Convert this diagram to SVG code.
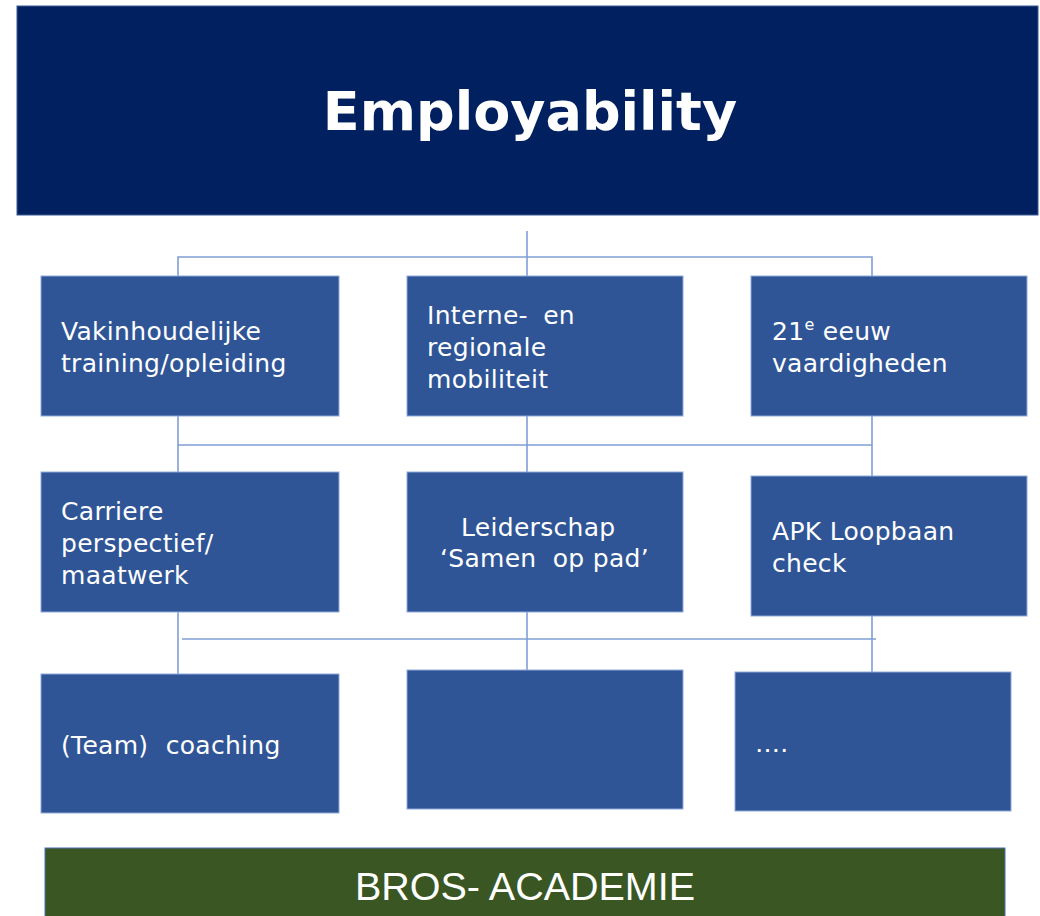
<svg xmlns="http://www.w3.org/2000/svg" width="1040" height="916" viewBox="0 0 1040 916">
<style>
.box{fill:#2F5597;stroke:#8FAADC;stroke-width:1}
.t{font-family:"DejaVu Sans",Verdana,sans-serif;font-size:25px;fill:#FFFFFF;letter-spacing:0.3px}
.con{stroke:#7F9FD6;stroke-width:1.6;fill:none}
</style>
<rect width="1040" height="916" fill="#FFFFFF"/>
<g id="connectors">
<path class="con" d="M527 231V276M178 276V257H872V276"/>
<path class="con" d="M178 416V472M527 416V472M872 416V476M178 445H872"/>
<path class="con" d="M178 612V674M527 612V670M872 616V672M182 639H876"/>
</g>
<g id="employability">
<rect x="17" y="6" width="1021" height="209" fill="#012060" stroke="#3B5A96" stroke-width="1"/>
<text x="530" y="130" text-anchor="middle" font-family="'DejaVu Sans',Verdana,sans-serif" font-weight="bold" font-size="54" fill="#FFFFFF">Employability</text>
</g>
<g id="vakinhoudelijke">
<rect class="box" x="41" y="276" width="298" height="140"/>
<text class="t"><tspan x="61" y="340">Vakinhoudelijke</tspan><tspan x="61" y="372">training/opleiding</tspan></text>
</g>
<g id="mobiliteit">
<rect class="box" x="407" y="276" width="276" height="140"/>
<text class="t"><tspan x="427" y="324">Interne-<tspan dx="7"> en</tspan></tspan><tspan x="427" y="356">regionale</tspan><tspan x="427" y="388">mobiliteit</tspan></text>
</g>
<g id="vaardigheden">
<rect class="box" x="751" y="276" width="276" height="140"/>
<text class="t"><tspan x="772" y="340">21</tspan><tspan font-size="16" dy="-10">e</tspan><tspan dy="10"> eeuw</tspan><tspan x="772" y="372">vaardigheden</tspan></text>
</g>
<g id="carriere">
<rect class="box" x="41" y="472" width="298" height="140"/>
<text class="t"><tspan x="61" y="520">Carriere</tspan><tspan x="61" y="552">perspectief/</tspan><tspan x="61" y="584">maatwerk</tspan></text>
</g>
<g id="leiderschap">
<rect class="box" x="407" y="472" width="276" height="140"/>
<text class="t"><tspan x="461" y="536">Leiderschap</tspan><tspan x="440" y="567">‘Samen<tspan dx="8"> op pad’</tspan></tspan></text>
</g>
<g id="apk">
<rect class="box" x="751" y="476" width="276" height="140"/>
<text class="t" letter-spacing="0.6"><tspan x="772" y="540">APK Loopbaan</tspan><tspan x="772" y="572">check</tspan></text>
</g>
<g id="coaching">
<rect class="box" x="41" y="674" width="298" height="139"/>
<text class="t" x="61" y="754" letter-spacing="0.6">(Team)<tspan dx="9"> coaching</tspan></text>
</g>
<g id="empty">
<rect class="box" x="407" y="670" width="276" height="139"/>
</g>
<g id="more">
<rect class="box" x="735" y="672" width="276" height="139"/>
<text class="t" x="755" y="752">….</text>
</g>
<g id="bros-academie">
<rect x="45" y="848" width="960" height="76" fill="#3A5623" stroke="#4A6FB5" stroke-width="1"/>
<text x="525" y="900" text-anchor="middle" font-family="'Liberation Sans',Arial,sans-serif" font-size="39.5" fill="#FFFFFF">BROS- ACADEMIE</text>
</g>
</svg>
